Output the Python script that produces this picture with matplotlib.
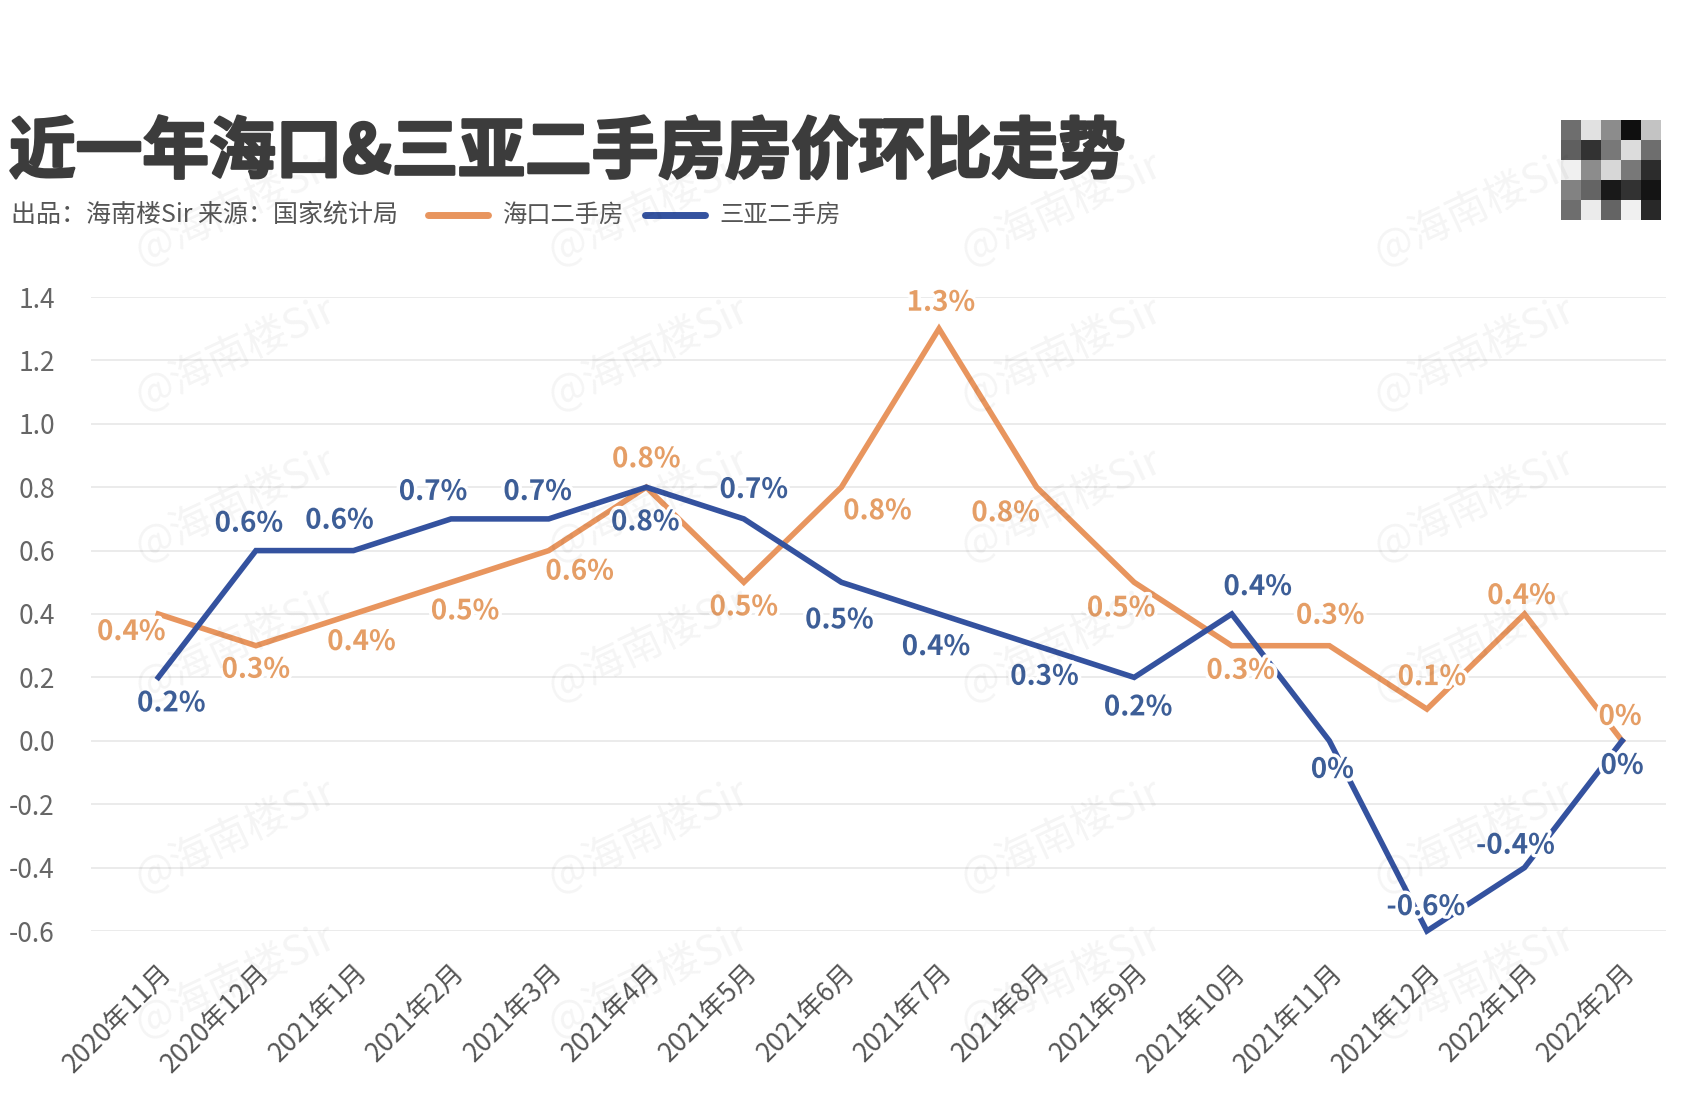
import numpy as np
import matplotlib.pyplot as plt
import matplotlib.patheffects as pe

plt.rcParams['font.family'] = ['Noto Sans CJK SC', 'DejaVu Sans']

# ── Data ─────────────────────────────────────────────────────────────────────
months = ["2020年11月", "2020年12月", "2021年1月", "2021年2月", "2021年3月",
          "2021年4月", "2021年5月", "2021年6月", "2021年7月", "2021年8月",
          "2021年9月", "2021年10月", "2021年11月", "2021年12月", "2022年1月",
          "2022年2月"]
haikou = [0.4, 0.3, 0.4, 0.5, 0.6, 0.8, 0.5, 0.8, 1.3, 0.8, 0.5, 0.3, 0.3, 0.1, 0.4, 0.0]
sanya = [0.2, 0.6, 0.6, 0.7, 0.7, 0.8, 0.7, 0.5, 0.4, 0.3, 0.2, 0.4, 0.0, -0.6, -0.4, 0.0]
yticks = [-0.6, -0.4, -0.2, 0.0, 0.2, 0.4, 0.6, 0.8, 1.0, 1.2, 1.4]

# label offsets in pixels (hand placed like the original)
hk_off = [(-27, -18), (0, -24), (8, -28), (14, -29), (31, -21), (0, 28), (0, -25),
          (36, -24), (2, 26), (-31, -26), (-13, -26), (9, -25), (1, 30), (5, 32),
          (-3, 18), (-2, 24)]
sy_off = [(13, -26), (-7, 27), (-14, 30), (-18, 27), (-11, 27), (-1, -35), (10, 29),
          (-2, -38), (-3, -33), (8, -31), (4, -30), (26, 27), (3, -29), (-1, 24),
          (-9, 22), (0, -25)]

ORANGE = "#E8955E"
ORANGE_TXT = "#E59E66"
BLUE = "#34529F"
BLUE_TXT = "#3D5E97"

fig = plt.figure(figsize=(16.82, 11.2), dpi=100)
ax = fig.add_axes([91 / 1682, 1 - 931 / 1120, (1666 - 91) / 1682, (931 - 297) / 1120])

x = np.arange(len(months))
ax.plot(x, haikou, color=ORANGE, lw=4, solid_joinstyle="miter", clip_on=False, zorder=3)
ax.plot(x, sanya, color=BLUE, lw=4, solid_joinstyle="miter", clip_on=False, zorder=3)

halo = [pe.withStroke(linewidth=5, foreground="white")]
for xs, ys, offs, col in [(x, haikou, hk_off, ORANGE_TXT), (x, sanya, sy_off, BLUE_TXT)]:
    for xi, yi, (dx, dy) in zip(xs, ys, offs):
        ax.annotate(f"{yi:g}%", (xi, yi), xytext=(dx, dy), textcoords="offset pixels",
                    ha="center", va="center", fontsize=20, fontweight="bold",
                    color=col, path_effects=halo, zorder=5)

ax.set_xlim(-0.69, 15.45)
ax.set_ylim(-0.6, 1.4)
ax.set_yticks(yticks)
ax.set_yticklabels([f"{t:.1f}" for t in yticks], fontsize=19, color="#666666")
ax.set_xticks(x)
ax.set_xticklabels(months, rotation=45, ha="right", va="top", rotation_mode="anchor",
                   fontsize=19, color="#555555")
ax.tick_params(axis="both", length=0)
ax.tick_params(axis="x", pad=20)
ax.tick_params(axis="y", pad=26)
for lab in ax.get_xticklabels():
    lab.set_x(lab.get_position()[0])
ax.grid(axis="y", color="#E8E8E8", lw=1.2)
ax.set_axisbelow(True)
for s in ax.spines.values():
    s.set_visible(False)

# watermark
for wx in [0.14, 0.3855, 0.631, 0.8765]:
    for wy in [0.815, 0.685, 0.55, 0.425, 0.255, 0.125]:
        fig.text(wx, wy, "@海南楼Sir", fontsize=30, rotation=25, color="#000000",
                 alpha=0.045, ha="center", va="center")

# title, subtitle, legend
fig.text(9 / 1682, 1 - 153 / 1120, "近一年海口&三亚二手房房价环比走势", fontsize=48,
         fontweight="heavy", color="#3C3C3C", va="center",
         path_effects=[pe.withStroke(linewidth=2, foreground="#3C3C3C")])
fig.text(11 / 1682, 1 - 215 / 1120, "出品：海南楼Sir 来源：国家统计局", fontsize=18,
         color="#555555", va="center")
fig.add_artist(plt.Line2D([428 / 1682, 488 / 1682], [1 - 215 / 1120] * 2, color=ORANGE,
                          lw=5, solid_capstyle="round"))
fig.text(502 / 1682, 1 - 215 / 1120, "海口二手房", fontsize=17.5, color="#555555", va="center")
fig.add_artist(plt.Line2D([645 / 1682, 705 / 1682], [1 - 215 / 1120] * 2, color=BLUE,
                          lw=5, solid_capstyle="round"))
fig.text(719 / 1682, 1 - 215 / 1120, "三亚二手房", fontsize=17.5, color="#555555", va="center")

# pixelated code block top right
qr = np.array([[110, 225, 140, 15, 195],
               [95, 50, 120, 220, 110],
               [240, 140, 215, 120, 45],
               [130, 100, 25, 50, 20],
               [110, 235, 100, 240, 40]])
qax = fig.add_axes([1561 / 1682, 1 - 220 / 1120, 100 / 1682, 100 / 1120])
qax.imshow(qr, cmap="gray", vmin=0, vmax=255, interpolation="nearest", aspect="auto")
qax.axis("off")

fig.savefig("out.png", dpi=100, facecolor="white")
